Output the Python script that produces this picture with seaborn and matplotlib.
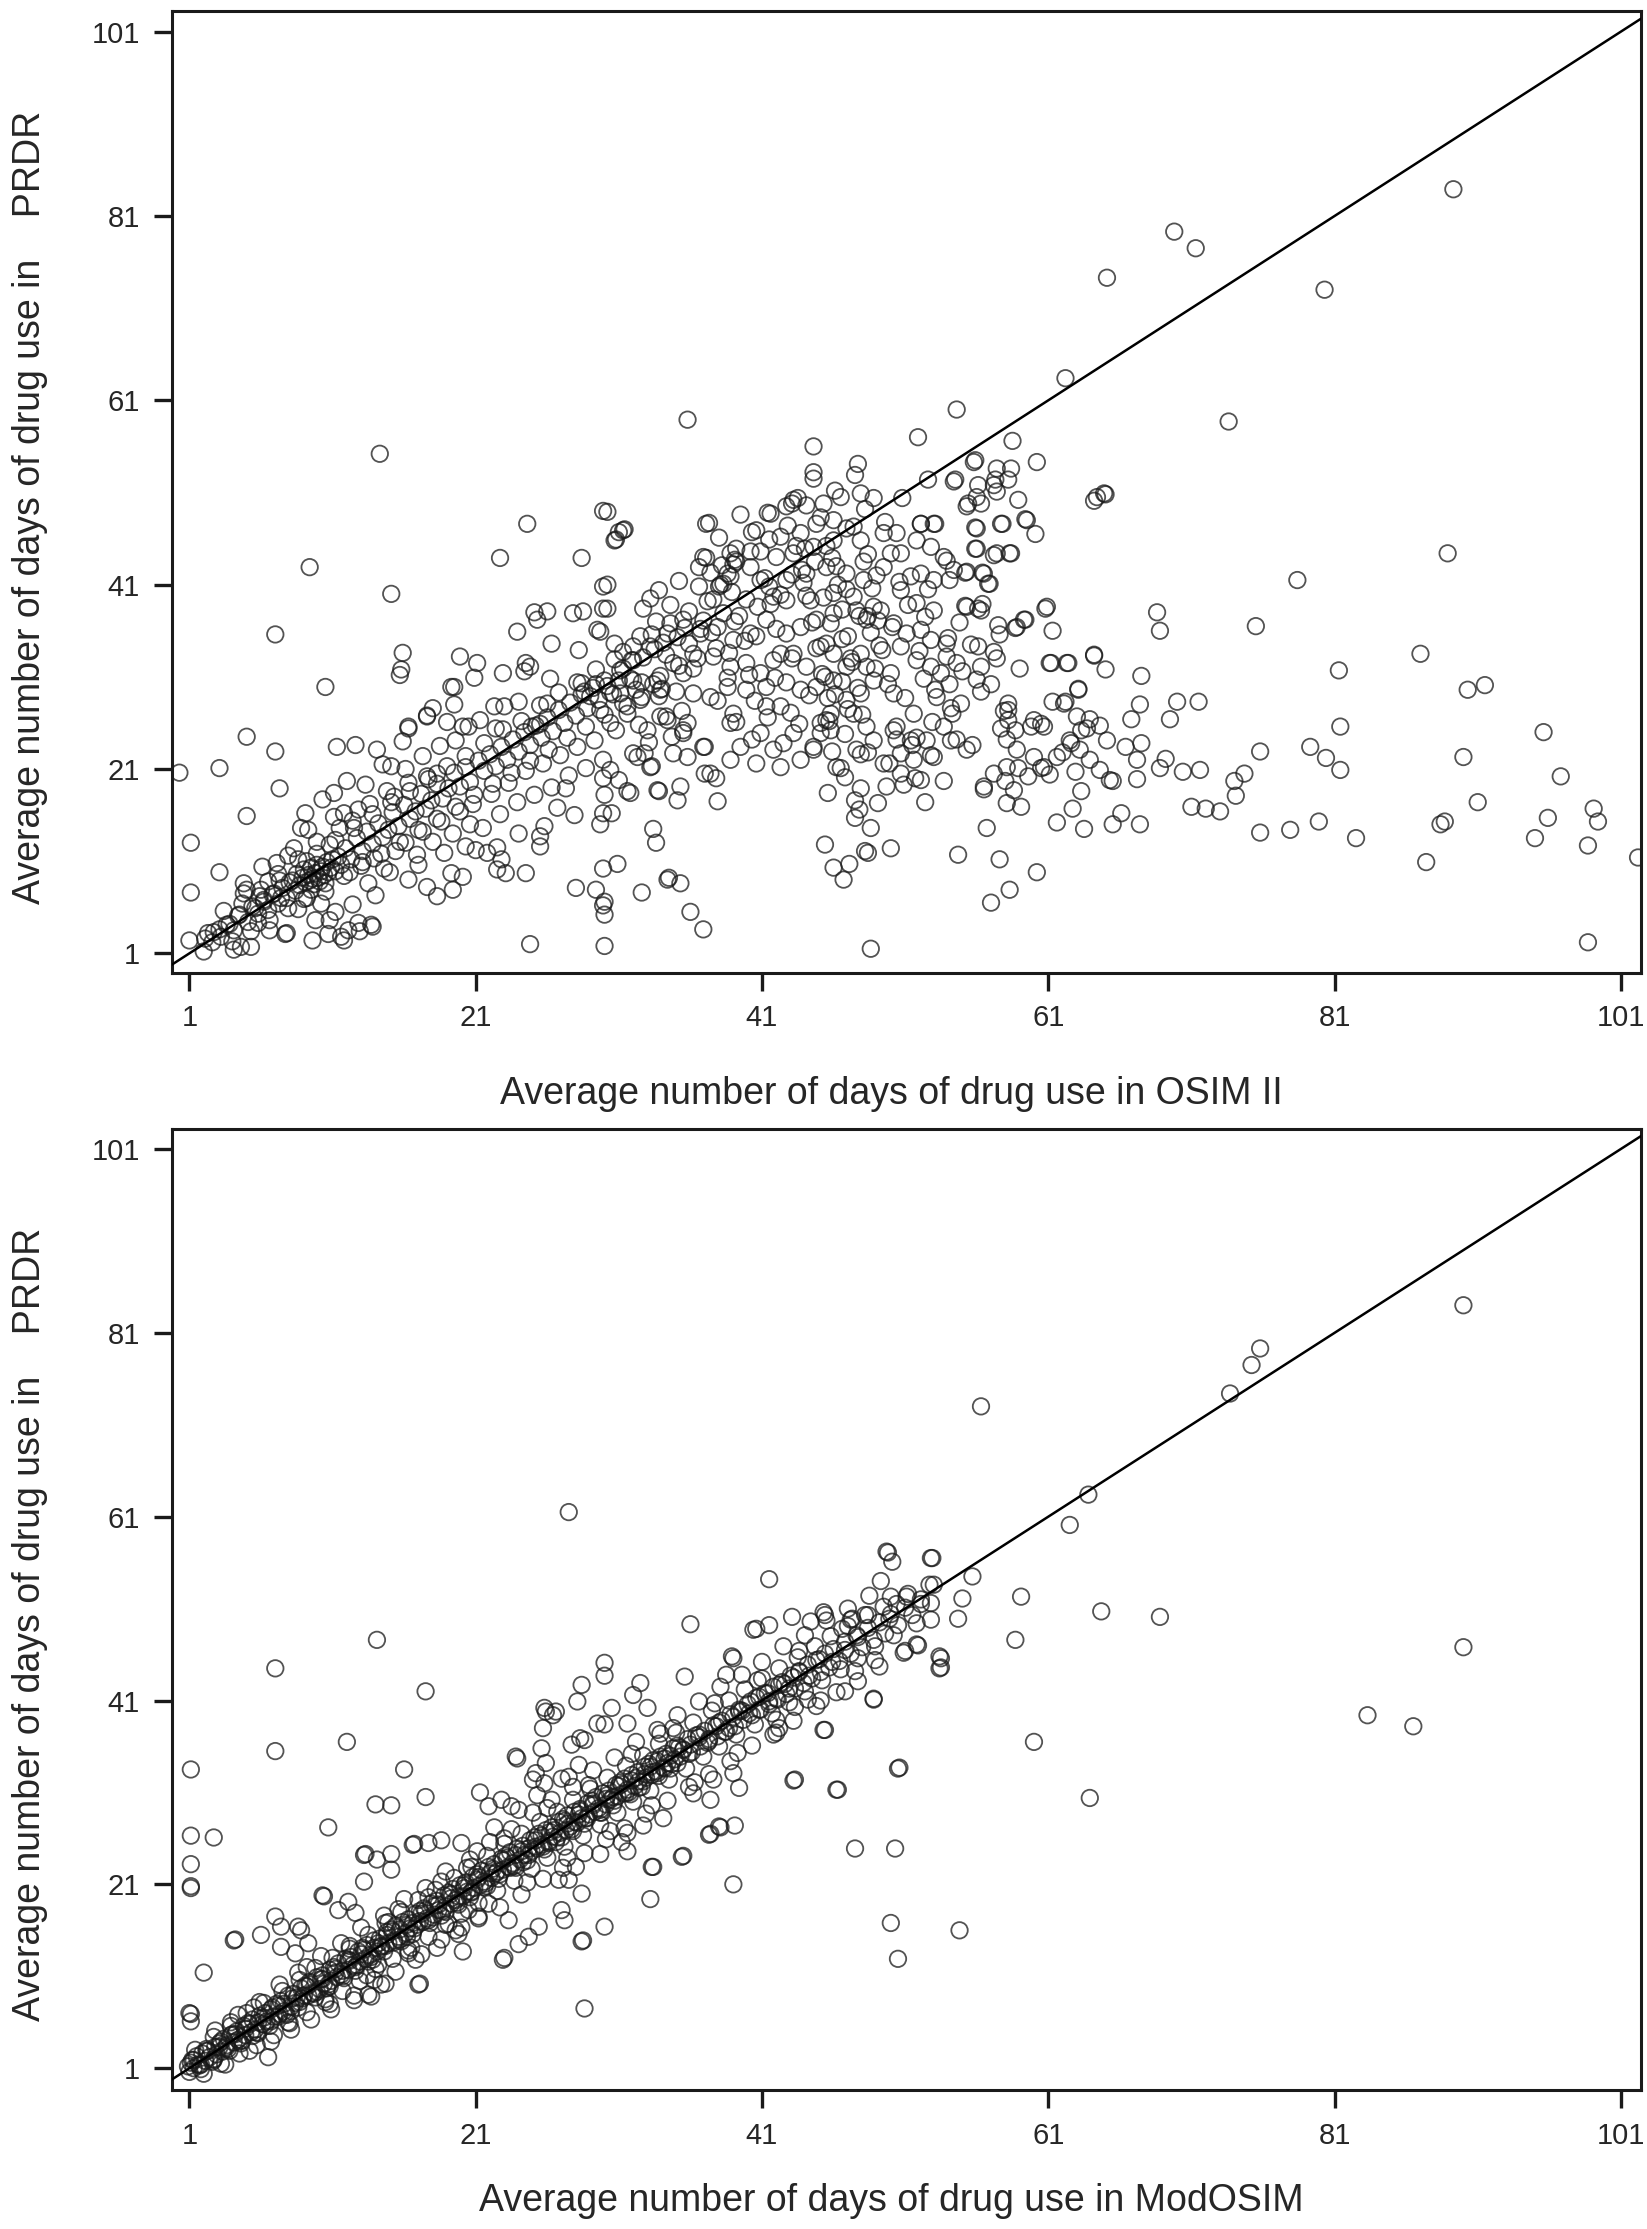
import pandas as pd
import matplotlib
matplotlib.use("Agg")
import matplotlib.pyplot as plt
import seaborn as sns

# axis ticks shared by both panels
tick_vals = [1, 21, 41, 61, 81, 101]

# ---------------- top panel: OSIM II (x) vs PRDR (y) ----------------
osim_band = [
    (2.1, 2.6), (2.7, 3.3), (3.2, 2.8), (3.6, 4.1), (4.1, 3.5), (4.5, 5.2), (5.1, 4.4), (5.4, 6.1),
    (5.8, 5.3), (6.2, 6.8), (6.5, 5.7), (6.9, 7.5), (7.2, 6.4), (7.5, 8.1), (7.8, 7.0), (8.0, 8.7),
    (8.2, 8.9), (8.4, 7.8), (8.5, 9.6), (8.7, 8.4), (8.9, 9.2), (9.0, 10.1), (9.1, 8.7), (9.2, 11.0),
    (9.3, 9.5), (9.4, 8.9), (9.5, 10.3), (9.5, 7.9), (9.6, 9.1), (9.7, 8.5), (9.8, 9.7), (9.9, 10.6),
    (10.0, 9.2), (10.1, 8.8), (10.2, 9.9), (10.3, 10.4), (10.4, 9.5), (10.5, 8.6), (10.6, 10.9),
    (10.7, 9.8), (10.9, 10.3), (11.0, 11.2), (11.2, 9.9), (11.4, 11.5), (11.6, 10.6), (11.9, 12.4),
    (12.3, 11.2), (12.7, 13.5), (13.1, 12.1), (13.4, 14.2), (13.8, 12.9), (14.2, 15.1), (14.5, 13.6),
    (14.9, 14.4), (15.2, 16.3), (15.6, 14.8), (16.0, 17.1), (16.4, 15.6), (16.8, 16.4), (17.2, 18.3),
    (17.5, 16.7), (17.9, 17.6), (18.3, 19.4), (18.7, 17.8), (19.1, 18.9), (19.5, 20.6), (19.9, 19.1),
    (20.3, 21.2), (20.6, 19.6), (21.2, 21.9), (21.6, 20.8), (22.0, 22.6), (22.4, 21.3), (22.8, 23.4),
    (23.2, 22.0), (23.6, 24.2), (24.0, 22.9), (24.4, 25.0), (24.8, 23.6), (25.2, 25.7), (25.6, 24.4),
    (26.0, 26.6), (26.4, 25.1), (26.8, 27.4), (27.2, 26.0), (27.6, 28.2), (28.0, 26.8), (28.4, 29.1),
    (28.8, 27.6), (29.2, 29.8), (29.6, 28.5), (30.0, 30.6), (30.4, 29.3), (28.6, 29.4), (29.4, 30.2),
    (30.2, 30.0), (31.0, 30.6), (31.8, 30.8), (32.6, 30.4), (33.4, 30.2), (34.0, 29.7), (29.0, 28.9),
    (30.6, 29.1), (32.2, 29.6), (33.8, 28.9), (35.0, 29.4), (31.3, 31.9), (31.9, 32.8), (32.7, 33.1),
    (33.5, 34.0), (34.3, 33.4), (35.1, 35.3), (35.9, 34.6), (36.7, 36.2), (37.5, 35.8), (38.3, 37.9),
    (39.1, 37.0), (39.9, 39.4), (40.7, 38.6), (41.5, 40.8), (42.3, 39.9), (43.1, 42.1), (43.9, 41.2),
    (44.7, 43.5),
]

osim_band_wide = [
    (3.4, 5.6), (4.0, 2.3), (4.7, 6.4), (5.3, 3.4), (6.0, 7.9), (6.6, 4.6), (7.3, 8.9), (7.9, 5.9),
    (8.6, 11.2), (9.2, 7.0), (9.9, 11.8), (10.5, 7.7), (11.2, 13.3), (11.8, 9.4), (12.5, 14.6),
    (13.1, 10.9), (13.8, 16.1), (14.4, 11.8), (15.1, 17.4), (15.7, 13.1), (16.4, 18.6), (17.0, 14.4),
    (17.7, 19.9), (18.3, 15.6), (19.0, 21.3), (19.6, 16.9), (20.3, 22.4), (20.9, 18.2), (21.6, 23.8),
    (22.2, 19.4), (22.9, 25.3), (23.5, 20.6), (24.2, 26.2), (24.8, 21.9), (25.5, 27.9), (26.1, 23.1),
    (26.8, 29.3), (27.4, 24.4), (28.1, 30.4), (28.7, 25.6), (29.4, 31.8), (30.0, 26.9), (30.7, 32.9),
    (31.3, 28.1), (32.0, 34.3), (32.6, 28.8), (33.3, 35.6), (33.9, 31.1), (34.6, 36.8), (35.2, 32.2),
    (35.9, 38.1), (36.5, 33.0), (37.2, 39.2), (37.8, 34.1),
]

osim_left = [
    (0.3, 20.6), (1.1, 13.0), (1.1, 7.6), (1.0, 2.4), (2.0, 1.2), (3.1, 21.1), (3.1, 9.8), (3.1, 3.6),
    (4.6, 1.7), (2.3, 3.2), (4.1, 1.4), (5.3, 1.7), (5.8, 4.3), (6.6, 3.5), (7.8, 3.2), (2.6, 2.2),
    (3.8, 4.2), (4.4, 5.1), (5.0, 24.5), (5.0, 15.9), (5.0, 7.9), (4.8, 8.6), (4.8, 7.5), (6.1, 10.4),
    (7.1, 10.8), (7.0, 35.6), (7.0, 22.9), (7.3, 18.9), (7.7, 3.1), (5.6, 5.9), (6.2, 6.6), (6.8, 7.4),
    (7.4, 7.0), (6.5, 8.8), (7.2, 9.6), (5.9, 7.2), (9.6, 2.4), (10.7, 3.1), (11.8, 2.4), (12.9, 3.4),
    (13.7, 4.1), (12.1, 3.5), (11.6, 2.8), (10.8, 4.6), (9.8, 4.6), (12.8, 4.3), (13.8, 3.9), (11.2, 5.5),
    (12.4, 6.3), (9.4, 42.9), (10.5, 29.9), (10.3, 17.7), (9.1, 16.2), (9.3, 14.4), (8.8, 14.6),
    (11.1, 18.4), (11.8, 16.2), (11.1, 15.8), (12.8, 16.6), (8.3, 12.4), (9.9, 13.1), (10.8, 12.8),
    (7.9, 11.6), (8.6, 5.8), (9.0, 6.9), (10.2, 6.4), (11.3, 23.4), (12.6, 23.6), (14.1, 23.1),
    (15.1, 21.3), (16.3, 25.4), (17.6, 26.7), (19.0, 26.1), (20.1, 25.6), (20.5, 25.6), (13.3, 19.3),
    (15.3, 18.0), (16.3, 19.5), (17.6, 20.2), (18.3, 20.5), (18.3, 7.2), (17.6, 8.2), (16.3, 9.0),
    (19.3, 9.7), (20.1, 9.3), (21.0, 12.2), (21.8, 11.9), (20.3, 12.6), (14.3, 55.2), (15.1, 40.0),
    (15.9, 33.6), (15.8, 31.8), (15.7, 31.2), (16.3, 25.6), (17.6, 26.8), (19.9, 33.2), (21.1, 32.5),
    (19.5, 29.9), (19.3, 29.9), (20.9, 30.9), (12.2, 9.8), (13.0, 10.5), (13.9, 11.3), (14.6, 10.2),
    (15.4, 12.1), (16.1, 13.0), (16.9, 11.7), (17.3, 14.2), (18.0, 13.1), (18.6, 15.3), (19.4, 14.0),
    (19.9, 16.4), (20.6, 15.0), (13.5, 8.6), (15.0, 9.8), (17.0, 10.6), (18.8, 11.9), (14.0, 7.3),
    (11.5, 14.6), (12.4, 15.4), (13.6, 17.2), (14.8, 18.6), (16.1, 21.0), (17.3, 22.4), (18.5, 23.5),
    (19.6, 24.1), (12.0, 19.7), (14.5, 21.5), (15.9, 24.0), (18.0, 27.6), (19.5, 28.0), (19.4, 7.9),
]

osim_mid = [
    (20.8, 17.2), (21.5, 14.6), (22.1, 18.3), (22.7, 16.1), (23.3, 19.5), (23.9, 17.4), (24.5, 20.8),
    (25.1, 18.2), (25.7, 21.6), (26.3, 19.0), (26.9, 22.5), (27.5, 20.3), (28.1, 23.4), (28.7, 21.1),
    (29.3, 24.1), (29.9, 22.0), (22.5, 12.5), (24.0, 14.0), (25.5, 13.7), (25.5, 12.6), (25.8, 14.8),
    (22.8, 11.2), (22.5, 10.1), (24.5, 9.7), (23.1, 9.7), (24.8, 2.0), (30.0, 1.8), (29.9, 6.2),
    (30.0, 5.2), (28.0, 8.1), (29.9, 10.2), (30.9, 10.7), (29.4, 7.9), (30.0, 6.6), (27.9, 16.0),
    (29.9, 16.2), (30.0, 18.2), (29.7, 15.0), (26.7, 16.8), (27.3, 18.9), (21.3, 26.3), (22.4, 25.4),
    (23.0, 27.8), (24.0, 28.3), (22.3, 27.8), (24.9, 25.6), (25.5, 25.9), (26.0, 28.1), (24.4, 31.6),
    (24.5, 32.5), (26.2, 30.8), (28.4, 30.3), (22.9, 31.4), (23.9, 35.9), (25.3, 37.2), (26.0, 38.1),
    (26.3, 34.6), (28.2, 33.9), (27.8, 37.9), (28.5, 38.1), (22.7, 43.9), (24.6, 47.6), (25.1, 38.0),
    (24.8, 32.1), (28.4, 43.9), (29.9, 49.0), (31.0, 46.7), (31.4, 47.0), (30.8, 45.9), (29.9, 40.8),
    (29.9, 38.4), (29.7, 35.9), (30.7, 34.6), (29.5, 36.1), (29.9, 20.0), (31.6, 18.6), (33.8, 18.6),
    (35.1, 17.6), (33.4, 14.5), (33.6, 13.0), (32.6, 7.6), (34.4, 9.0), (35.3, 8.6), (36.0, 5.5),
    (36.9, 3.6), (34.5, 9.2), (37.9, 17.5), (37.0, 20.5), (37.8, 20.0), (32.0, 22.7), (32.8, 22.7),
    (33.3, 21.3), (34.8, 22.7), (35.5, 24.9), (34.3, 26.7), (35.8, 26.0), (37.0, 23.4), (38.8, 26.0),
    (31.0, 19.8), (31.8, 18.4), (30.5, 16.2), (35.8, 58.9), (33.8, 40.4), (32.7, 38.4), (37.1, 47.6),
    (36.6, 42.9), (37.1, 43.9), (38.3, 41.1), (39.0, 43.2), (39.2, 44.9), (37.3, 47.7), (36.9, 44.0),
    (38.0, 40.8), (38.8, 41.9), (39.1, 43.7), (30.2, 48.9), (31.3, 46.9), (30.7, 45.8),
]

osim_core = [
    (44.6, 56.0), (44.6, 53.2), (44.6, 52.5), (43.1, 49.8), (41.4, 48.8), (40.3, 46.7), (30.2, 41.0),
    (30.2, 38.4), (38.1, 41.0), (38.6, 42.2), (39.2, 43.5), (40.2, 44.6), (40.6, 46.9), (41.6, 48.7),
    (42.7, 49.5), (43.2, 50.2), (44.1, 49.6), (45.3, 49.8), (46.5, 50.5), (47.9, 50.9), (48.8, 50.4),
    (42.3, 46.2), (43.7, 46.6), (44.8, 47.6), (46.0, 48.0), (47.4, 47.3), (42.0, 44.0), (43.2, 44.4),
    (44.6, 45.1), (46.0, 45.8), (47.9, 45.8), (49.5, 46.6), (50.4, 46.6), (50.0, 44.4), (49.5, 42.9),
    (50.7, 44.4), (52.1, 47.6), (53.0, 47.6), (51.8, 45.8), (52.8, 45.1), (53.7, 44.0), (54.4, 42.6),
    (51.4, 41.9), (52.1, 42.2), (53.0, 41.5), (50.7, 40.4), (51.8, 39.0), (53.0, 38.2), (38.8, 44.4),
    (40.2, 42.9), (40.9, 41.5), (42.7, 41.5), (44.1, 42.2), (45.5, 42.9), (46.9, 42.2), (48.1, 41.5),
    (41.8, 39.7), (42.7, 39.3), (44.4, 39.3), (46.0, 40.1), (47.4, 39.7), (48.8, 38.6), (49.3, 38.2),
    (48.3, 37.2), (48.4, 37.6), (50.2, 36.8), (51.1, 35.7), (52.1, 36.1), (52.8, 35.0), (53.9, 34.6),
    (50.7, 34.3), (51.8, 32.8), (52.8, 32.1), (53.9, 33.2), (54.6, 32.5), (50.0, 31.4), (50.2, 29.2),
    (48.8, 30.6), (48.3, 32.1), (47.9, 33.5), (46.0, 37.9), (44.8, 37.2), (43.7, 36.4), (42.7, 35.7),
    (41.3, 37.2), (40.2, 35.7), (39.0, 35.0), (37.9, 36.4), (36.7, 35.7), (35.5, 37.2), (34.4, 35.7),
    (33.2, 34.3), (32.0, 32.8), (31.1, 31.7), (34.8, 32.5), (36.2, 33.5), (37.6, 33.2), (38.8, 32.1),
    (39.9, 32.5), (40.9, 31.4), (41.8, 32.8), (43.2, 33.5), (44.1, 32.1), (45.1, 34.3), (46.0, 33.5),
    (46.9, 32.1), (46.0, 30.6), (44.8, 29.9), (43.7, 29.6), (41.3, 29.9), (39.9, 29.6), (38.6, 29.9),
    (37.4, 28.8), (36.2, 29.2), (33.9, 29.6), (32.5, 28.5), (31.1, 29.2), (35.5, 31.4), (33.7, 30.6),
    (32.0, 30.6), (45.5, 26.3), (45.8, 25.2), (45.1, 24.9), (38.2, 43.1), (38.9, 40.2), (39.4, 37.6),
    (39.8, 34.9), (40.1, 31.2), (40.5, 28.4), (40.9, 44.6), (41.2, 41.7), (41.6, 38.9), (42.0, 36.2),
    (42.3, 33.5), (42.7, 30.4), (43.0, 27.1), (43.4, 45.2), (43.8, 42.6), (44.1, 39.8), (44.5, 36.9),
    (44.8, 34.1), (45.2, 31.3), (45.6, 28.7), (45.9, 43.9), (46.3, 41.0), (46.6, 38.3), (47.0, 35.4),
    (47.3, 32.6), (47.7, 29.8), (48.0, 26.9), (48.4, 44.3), (48.7, 40.6), (49.1, 37.1), (49.4, 33.9),
    (49.8, 30.2), (38.6, 30.9), (39.2, 26.1), (40.3, 24.2), (41.4, 26.6), (42.5, 23.8), (43.6, 25.9),
    (44.6, 23.4), (45.7, 26.2), (46.8, 24.8), (47.9, 22.6), (37.6, 39.4), (36.9, 37.1), (36.2, 31.9),
    (35.4, 27.3), (34.7, 24.5), (33.9, 26.7), (33.1, 23.9), (32.4, 25.8), (31.6, 27.8), (30.8, 25.2),
    (31.3, 33.7), (32.5, 35.4), (33.6, 37.0), (34.6, 38.8), (35.6, 36.3), (36.6, 40.8), (37.4, 42.3),
    (35.2, 41.4), (33.2, 39.5), (34.1, 34.7), (37.9, 28.4), (38.7, 33.6), (40.6, 35.4), (41.9, 30.9),
    (43.1, 33.0), (44.3, 29.0), (45.5, 34.6), (46.6, 30.5), (47.8, 37.6), (48.9, 31.9), (50.1, 36.4),
    (51.0, 28.7), (52.0, 33.8), (50.6, 41.3), (51.8, 24.4), (53.1, 29.6), (52.4, 37.5), (54.0, 35.2),
    (55.0, 31.6), (54.3, 27.0), (56.1, 34.3), (55.7, 23.6), (57.0, 30.2), (58.2, 28.1), (59.0, 31.9),
    (57.7, 25.4), (56.4, 38.9), (49.6, 47.8), (48.2, 49.2), (46.9, 47.1), (45.1, 48.3), (44.0, 44.9),
    (42.8, 47.4), (41.5, 45.9), (43.5, 50.4), (46.1, 51.2), (47.5, 52.9), (50.8, 50.4), (39.5, 48.6),
    (38.0, 46.1), (45.5, 45.2), (46.2, 43.0), (46.9, 40.5), (47.6, 38.2), (45.8, 36.8), (46.6, 35.1),
    (47.2, 33.0), (45.4, 31.0), (46.1, 29.1), (47.0, 27.5), (48.6, 35.8), (49.2, 34.4), (48.1, 43.5),
    (49.0, 42.0), (45.3, 39.6), (45.9, 22.9), (46.8, 20.1), (47.9, 18.9), (49.1, 17.3), (48.6, 14.6),
    (45.6, 18.4), (52.3, 30.8), (53.5, 31.4), (51.2, 38.8), (52.6, 40.5), (54.8, 36.9), (55.6, 34.5),
    (54.1, 30.2), (51.6, 27.0), (52.9, 26.1), (39.0, 27.0), (41.3, 27.8), (42.3, 27.8), (35.5, 25.2),
    (34.4, 26.3), (33.0, 25.2), (30.4, 26.0), (31.6, 27.0), (29.7, 27.4), (43.2, 24.9), (41.8, 23.1),
    (40.9, 24.9), (39.5, 23.4), (40.6, 21.6), (38.8, 22.0), (36.9, 23.4), (37.4, 20.5), (35.8, 22.3),
    (33.2, 21.2), (32.3, 22.3), (30.4, 20.9), (33.7, 18.7), (35.3, 19.1), (44.6, 23.1), (43.7, 22.0),
    (42.3, 21.2), (45.1, 26.0), (45.8, 27.0), (46.9, 28.5), (47.9, 29.2), (47.4, 27.0), (46.2, 21.2),
    (47.6, 23.1), (48.3, 25.6), (48.8, 24.1),
]

osim_right = [
    (89.3, 83.9), (69.8, 79.3), (71.3, 77.5), (65.1, 74.3), (80.3, 73.0), (62.2, 63.4), (54.6, 60.0),
    (51.9, 57.0), (73.6, 58.7), (47.7, 54.1), (58.5, 56.6), (55.9, 54.5), (60.2, 54.3), (57.4, 53.6),
    (58.4, 53.6), (57.3, 52.4), (58.2, 52.4), (57.4, 51.1), (55.8, 54.3), (54.4, 52.2), (52.6, 52.4),
    (54.5, 52.4), (56.1, 51.8), (57.2, 51.8), (56.0, 50.5), (55.3, 49.5), (56.3, 49.8), (58.9, 50.2),
    (64.2, 50.1), (65.0, 50.8), (88.9, 44.4), (78.4, 41.5), (60.1, 46.5), (59.4, 48.1), (57.7, 47.6),
    (55.9, 47.2), (53.1, 47.6), (55.4, 49.8), (52.1, 47.6), (57.8, 47.6), (59.5, 48.0), (55.9, 44.9),
    (58.3, 44.4), (57.2, 44.2), (55.2, 42.3), (56.4, 42.3), (56.9, 41.1), (53.9, 43.6), (54.1, 41.5),
    (55.2, 38.7), (56.1, 38.4), (60.9, 38.6), (61.3, 36.0), (59.4, 37.2), (58.7, 36.3), (57.6, 35.6),
    (57.5, 36.6), (55.3, 42.4), (68.6, 38.0), (68.8, 36.0), (75.5, 36.5), (87.0, 33.5), (81.3, 31.7),
    (90.3, 29.6), (91.5, 30.1), (95.6, 25.0), (96.8, 20.2), (90.0, 22.3), (91.0, 17.4), (99.1, 16.7),
    (99.4, 15.3), (95.9, 15.7), (95.0, 13.5), (98.7, 12.7), (102.2, 11.4), (98.7, 2.2), (88.4, 15.0),
    (88.7, 15.3), (87.4, 10.9), (82.5, 13.5), (79.9, 15.3), (77.9, 14.4), (75.8, 14.1), (81.4, 25.6),
    (81.4, 20.9), (80.4, 22.2), (79.3, 23.4), (75.8, 22.9), (74.7, 20.5), (74.0, 19.7), (74.1, 18.1),
    (73.0, 16.4), (72.0, 16.7), (71.0, 16.9), (71.5, 28.3), (70.0, 28.3), (69.5, 26.4), (71.6, 20.9),
    (70.4, 20.7), (68.8, 21.1), (69.2, 22.1), (67.5, 31.1), (67.4, 28.0), (66.8, 26.4), (67.5, 23.8),
    (67.2, 22.0), (67.2, 19.9), (66.4, 23.4), (66.1, 16.2), (65.5, 15.0), (67.4, 15.0), (65.5, 19.7),
    (65.0, 31.8), (64.2, 33.3), (63.1, 29.6), (62.4, 32.5), (61.2, 32.5), (62.2, 28.3), (61.3, 28.3),
    (64.6, 25.7), (63.9, 26.4), (63.3, 25.2), (62.6, 23.8), (62.0, 22.8), (62.9, 20.7), (63.3, 18.6),
    (62.7, 16.7), (63.5, 14.5), (61.6, 15.2), (61.1, 20.4), (60.5, 21.1), (59.6, 20.2), (58.9, 21.1),
    (60.5, 25.9), (59.8, 25.6), (60.2, 9.8), (58.3, 7.9), (57.0, 6.5), (57.6, 11.2), (56.7, 14.6),
    (56.5, 18.8), (58.0, 19.7), (59.1, 16.9), (58.1, 17.3), (58.1, 24.2), (57.9, 27.3), (54.7, 11.7),
    (52.4, 17.4), (53.7, 19.7), (51.7, 20.0), (50.9, 19.3), (52.8, 22.5), (53.7, 25.6), (54.6, 24.2),
    (51.5, 23.6), (50.4, 25.6), (50.4, 24.2), (49.9, 21.6), (48.4, 22.8), (50.0, 12.4), (48.4, 11.9),
    (48.2, 12.1), (47.5, 17.6), (47.8, 16.6), (47.5, 15.7), (46.5, 21.1), (45.4, 12.8), (46.0, 10.3),
    (47.1, 10.7), (46.7, 9.0), (48.6, 1.5), (61.1, 32.5), (62.3, 32.5), (64.2, 33.4), (63.1, 29.7),
    (62.1, 28.1), (57.2, 33.7), (57.4, 33.0), (56.3, 32.1), (56.0, 30.7), (56.3, 29.4), (58.2, 27.4),
    (58.2, 26.3), (58.7, 25.2), (60.0, 26.3), (60.7, 25.6), (63.0, 26.7), (63.7, 25.4), (65.1, 24.1),
    (62.5, 24.1), (63.2, 23.1), (63.9, 22.0), (61.6, 22.3), (60.7, 21.2), (60.0, 22.3), (58.8, 23.1),
    (58.1, 21.2), (57.2, 20.5), (56.5, 19.1), (64.6, 20.9), (65.3, 19.8), (58.6, 18.7), (55.3, 23.1),
    (54.2, 24.1), (53.0, 22.3), (52.1, 19.8), (54.9, 28.1), (53.2, 28.8), (54.2, 27.6), (52.5, 24.1),
    (50.2, 25.2), (51.4, 24.1), (50.7, 22.7), (51.6, 22.0), (50.7, 20.5), (49.5, 21.6), (49.7, 19.1),
    (55.3, 38.6), (56.3, 38.2), (56.0, 44.9), (57.4, 44.4), (58.4, 44.4), (56.0, 47.1), (60.8, 38.4),
    (58.8, 36.4), (59.3, 37.2), (56.5, 42.2), (56.8, 41.1), (64.4, 50.5), (64.9, 50.9),
]

# ---------------- bottom panel: ModOSIM (x) vs PRDR (y) ----------------
mod_band = [
    (0.9, 1.2), (1.0, 0.6), (1.2, 1.9), (1.3, 1.0), (1.5, 2.3), (1.6, 1.4), (1.8, 0.9), (1.9, 2.6),
    (2.1, 1.8), (2.3, 2.9), (2.4, 2.2), (2.6, 1.7), (2.8, 3.3), (2.9, 2.5), (3.1, 3.7), (3.3, 2.8),
    (3.4, 4.2), (3.6, 3.3), (3.8, 2.9), (3.9, 4.6), (4.1, 3.8), (4.3, 5.0), (4.4, 4.1), (4.6, 3.7),
    (4.8, 5.6), (4.9, 4.6), (5.1, 5.9), (5.3, 4.9), (5.4, 6.3), (5.6, 5.2), (5.8, 4.8), (5.9, 6.7),
    (6.1, 5.8), (6.3, 7.0), (6.4, 6.1), (6.6, 5.6), (6.8, 7.6), (6.9, 6.6), (7.1, 8.0), (7.3, 6.9),
    (7.4, 8.3), (7.6, 7.2), (7.8, 6.8), (7.9, 8.9), (8.1, 7.7), (8.3, 9.1), (8.4, 8.1), (8.6, 7.6),
    (8.8, 9.7), (8.9, 8.6), (9.1, 10.0), (9.3, 8.9), (9.4, 10.4), (9.6, 9.2), (9.8, 8.7), (9.9, 10.9),
    (10.1, 9.6), (10.3, 11.1), (10.4, 10.2), (10.6, 9.7), (10.8, 11.7), (10.9, 10.5), (11.1, 12.0),
    (11.3, 10.9), (11.4, 12.4), (11.6, 11.2), (11.8, 10.8), (11.9, 12.9), (12.1, 11.7), (12.3, 13.1),
    (12.4, 12.2), (12.6, 11.6), (12.8, 13.7), (12.9, 12.6), (13.1, 14.1), (13.3, 12.9), (13.4, 14.4),
    (13.6, 13.3), (13.8, 12.8), (13.9, 14.9), (14.1, 13.7), (14.3, 15.1), (14.4, 14.2), (14.6, 13.7),
    (14.8, 15.8), (14.9, 14.6), (15.1, 16.1), (15.3, 14.9), (15.4, 16.5), (15.6, 15.3), (15.8, 14.8),
    (15.9, 16.9), (16.1, 15.7), (16.3, 17.2), (16.4, 16.2), (16.6, 15.6), (16.8, 17.8), (16.9, 16.6),
    (17.1, 18.1), (17.3, 16.9), (17.4, 18.4), (17.6, 17.3), (17.8, 16.8), (17.9, 18.9), (18.1, 17.7),
    (18.3, 19.2), (18.4, 18.2), (18.6, 17.6), (18.8, 19.8), (18.9, 18.6), (19.1, 20.1), (19.3, 18.9),
    (19.4, 20.5), (19.6, 19.3), (19.8, 18.8), (19.9, 20.9), (20.1, 19.7), (20.3, 21.2), (20.4, 20.2),
    (20.6, 19.6), (20.8, 21.8), (20.9, 20.6), (21.1, 22.1), (21.3, 20.9), (21.4, 22.5), (21.6, 21.3),
    (21.8, 20.8), (21.9, 22.9), (22.1, 21.7), (22.3, 23.2), (22.4, 22.2), (22.6, 21.6), (22.8, 23.8),
    (22.9, 22.6), (23.1, 24.1), (23.3, 22.9), (23.4, 24.5), (23.6, 23.3), (23.8, 22.8), (23.9, 24.9),
    (24.1, 23.7), (24.3, 25.2), (24.4, 24.2), (24.6, 23.6), (24.8, 25.8), (24.9, 24.6), (25.1, 26.1),
    (25.3, 24.9), (25.4, 26.5), (25.6, 25.3), (25.8, 24.8), (25.9, 26.9), (26.1, 25.7), (26.3, 27.2),
    (26.4, 26.2), (26.6, 25.6), (26.8, 27.8), (26.9, 26.6), (27.1, 28.1), (27.3, 26.9), (27.4, 28.5),
    (27.6, 27.3), (27.8, 26.8), (27.9, 28.9), (28.1, 27.7), (28.3, 29.2), (28.4, 28.2), (28.6, 27.6),
    (28.8, 29.8), (28.9, 28.6), (29.1, 30.1), (29.3, 28.9), (29.4, 30.5), (29.6, 29.3), (29.8, 28.8),
    (29.9, 30.9), (30.1, 29.7), (30.3, 31.2), (30.4, 30.2), (30.6, 29.6), (30.8, 31.8), (30.9, 30.6),
    (31.1, 32.1), (31.3, 30.9), (31.4, 32.5), (31.6, 31.3), (31.8, 30.8), (31.9, 32.9), (32.1, 31.7),
    (32.3, 33.2), (32.4, 32.2), (32.6, 31.6), (32.8, 33.8), (32.9, 32.6), (33.1, 34.1), (33.3, 32.9),
    (33.4, 34.5), (33.6, 33.3), (33.8, 32.8), (33.9, 34.9), (34.1, 33.7), (34.3, 35.2), (34.4, 34.2),
    (34.6, 33.6), (34.8, 35.8), (34.9, 34.6), (35.1, 36.1), (35.3, 34.9), (35.5, 35.6), (35.8, 36.8),
    (36.1, 35.4), (36.4, 37.2), (36.7, 36.0), (37.0, 37.7), (37.3, 36.6), (37.6, 38.3), (37.9, 37.1),
    (38.2, 38.8), (38.5, 37.6), (38.8, 39.5), (39.1, 38.2), (39.4, 40.0), (39.7, 38.9), (40.0, 40.6),
    (40.3, 39.4), (40.6, 41.3), (40.9, 40.0), (41.2, 41.8), (41.5, 40.6), (41.8, 42.5), (42.1, 41.1),
    (42.4, 43.0), (42.7, 41.7), (43.0, 43.7), (43.3, 42.3), (43.6, 44.2), (43.9, 42.9), (44.2, 44.9),
    (44.5, 43.4), (44.8, 45.4), (45.1, 44.1), (45.4, 46.1), (45.7, 44.6), (46.0, 46.6), (46.4, 45.3),
    (46.8, 47.4), (47.2, 46.1), (47.6, 48.1), (48.0, 46.8), (48.4, 48.9), (48.8, 47.6), (49.2, 49.5),
    (49.6, 48.3), (50.0, 50.4), (50.5, 49.2), (51.0, 51.1), (51.5, 50.3), (52.1, 52.0), (52.8, 51.6),
]

mod_band_inner = [
    (1.1, 1.6), (1.7, 1.3), (2.2, 2.9), (2.7, 2.0), (3.2, 3.9), (3.7, 3.1), (4.2, 4.7), (4.7, 4.0),
    (5.2, 5.8), (5.7, 4.9), (6.2, 6.5), (6.7, 6.1), (7.2, 7.8), (7.7, 7.0), (8.2, 8.6), (8.7, 8.2),
    (9.2, 9.9), (9.7, 9.1), (10.2, 10.7), (10.7, 10.1), (11.2, 11.8), (11.7, 11.0), (12.2, 12.7),
    (12.7, 12.2), (13.2, 13.9), (13.7, 13.1), (14.2, 14.6), (14.7, 14.3), (15.2, 15.9), (15.7, 15.0),
    (16.2, 16.6), (16.7, 16.2), (17.2, 17.8), (17.7, 17.1), (18.2, 18.7), (18.7, 18.1), (19.2, 19.9),
    (19.7, 19.0), (20.2, 20.6), (20.7, 20.2), (21.2, 21.8), (21.7, 21.1), (22.2, 22.7), (22.7, 22.1),
    (23.2, 23.9), (23.7, 23.0), (24.2, 24.6), (24.7, 24.2), (25.2, 25.8), (25.7, 25.1), (26.2, 26.7),
    (26.7, 26.1), (27.2, 27.9), (27.7, 27.0), (28.2, 28.6), (28.7, 28.2), (29.2, 29.8), (29.7, 29.1),
    (30.2, 30.7), (30.7, 30.1), (31.2, 31.9), (31.7, 31.0), (32.2, 32.6), (32.7, 32.2), (33.2, 33.8),
    (33.7, 33.1), (34.2, 34.7), (34.7, 34.1), (35.2, 35.9), (35.9, 35.2), (36.6, 37.0), (37.3, 36.8),
    (38.0, 38.6), (38.7, 38.0), (39.4, 39.8), (40.1, 39.6), (40.8, 41.4), (41.5, 40.9), (42.2, 42.7),
    (42.9, 42.3), (43.6, 44.1), (44.3, 43.7), (45.0, 45.5), (45.9, 45.2), (46.8, 46.5), (47.7, 47.9),
]

mod_band_mid = [
    (1.3, 1.9), (1.8, 1.4), (2.2, 3.1), (2.7, 1.9), (3.1, 3.3), (3.6, 3.5), (4.0, 4.7), (4.5, 3.9),
    (4.9, 5.3), (5.4, 4.5), (5.8, 6.0), (6.3, 5.7), (6.7, 7.4), (7.2, 6.6), (7.6, 8.0), (8.1, 7.2),
    (8.5, 8.7), (9.0, 8.9), (9.4, 10.1), (9.9, 9.3), (10.3, 10.7), (10.8, 9.9), (11.2, 11.4),
    (11.7, 11.6), (12.1, 12.8), (12.6, 12.0), (13.0, 13.4), (13.5, 12.6), (13.9, 14.1), (14.4, 14.3),
    (14.8, 15.5), (15.3, 14.7), (15.7, 16.1), (16.2, 15.3), (16.6, 16.8), (17.1, 17.0), (17.5, 18.2),
    (18.0, 17.4), (18.4, 18.8), (18.9, 18.0), (19.3, 19.5), (19.8, 19.7), (20.2, 20.9), (20.7, 20.1),
    (21.1, 21.5), (21.6, 20.7), (22.0, 22.2), (22.5, 22.4), (22.9, 23.6), (23.4, 22.8), (23.8, 24.2),
    (24.3, 23.4), (24.7, 24.9), (25.2, 25.1), (25.6, 26.3), (26.1, 25.5), (26.5, 26.9), (27.0, 26.1),
    (27.4, 27.6), (27.9, 27.8), (28.3, 29.0), (28.8, 28.2), (29.2, 29.6), (29.7, 28.8), (30.1, 30.3),
    (30.6, 30.5), (31.0, 31.7), (31.5, 30.9), (31.9, 32.3), (32.4, 31.5), (32.8, 33.0), (33.3, 33.2),
    (33.7, 34.4), (34.2, 33.6), (34.6, 35.0), (35.1, 34.2), (35.5, 35.7), (36.0, 36.2), (36.6, 37.3),
    (37.2, 36.4), (37.8, 38.2), (38.4, 37.6), (39.0, 39.2), (39.6, 39.9), (40.2, 40.9), (40.8, 40.0),
    (41.4, 41.8), (42.0, 41.2), (42.6, 42.8), (43.2, 43.5),
]

mod_band_wide = [
    (1.4, 3.0), (2.0, 0.4), (2.7, 4.4), (3.2, 1.5), (3.9, 5.6), (4.5, 2.6), (5.0, 7.0), (5.7, 3.5),
    (6.2, 8.1), (6.9, 4.6), (7.5, 9.4), (8.0, 5.9), (8.7, 10.6), (9.2, 7.1), (9.8, 11.9), (10.5, 8.2),
    (11.0, 13.0), (11.7, 9.4), (12.2, 14.3), (12.9, 10.5), (13.5, 15.5), (14.0, 11.8), (14.7, 16.8),
    (15.2, 12.9), (15.8, 18.0), (16.5, 14.1), (17.0, 19.3), (17.7, 15.3), (18.2, 20.4), (18.9, 16.6),
    (19.5, 21.7), (20.0, 17.8), (20.7, 22.9), (21.2, 19.0), (21.8, 24.1), (22.5, 20.3), (23.0, 25.4),
    (23.7, 21.4), (24.2, 26.5), (24.9, 22.7), (25.5, 27.8), (26.0, 23.9), (26.7, 28.9), (27.2, 25.1),
    (27.8, 30.2), (28.5, 26.3), (29.0, 31.4), (29.7, 27.5), (30.2, 32.6), (30.9, 28.8), (31.5, 33.9),
    (32.0, 30.0), (32.7, 35.0), (33.2, 31.2), (33.8, 36.3), (34.5, 32.4), (35.0, 37.5), (35.7, 33.6),
    (36.2, 38.6), (36.9, 34.9), (37.5, 39.9), (38.0, 36.0), (38.7, 41.0), (39.2, 37.3), (39.8, 42.2),
    (40.5, 38.4), (41.0, 43.4), (41.7, 39.6), (42.2, 44.5), (42.9, 40.8), (43.5, 45.7), (44.0, 42.0),
    (44.7, 46.9), (45.2, 43.2), (45.8, 48.0), (46.5, 44.4), (47.0, 49.1), (47.7, 45.6), (48.2, 50.3),
    (48.9, 46.9), (49.5, 51.2), (50.2, 48.1), (51.2, 52.6), (51.8, 49.4), (53.0, 53.6),
]

mod_spread = [
    (2.8, 5.1), (3.5, 1.4), (4.4, 6.8), (5.2, 2.9), (5.9, 8.2), (6.7, 3.9), (7.3, 10.1), (8.1, 5.2),
    (8.6, 11.4), (9.5, 6.3), (10.2, 13.2), (10.9, 7.4), (11.6, 14.6), (12.5, 8.9), (13.0, 16.3),
    (13.9, 10.6), (14.6, 17.6), (15.4, 11.5), (16.0, 19.4), (16.8, 12.8), (17.5, 20.6), (18.3, 14.1),
    (18.9, 22.4), (19.8, 15.6), (20.6, 23.7), (21.2, 17.3), (22.0, 25.6), (22.7, 18.5), (23.5, 27.0),
    (24.2, 19.9), (25.0, 28.8), (25.7, 21.6), (26.3, 30.2), (27.1, 22.8), (27.8, 31.6), (28.6, 24.4),
    (29.2, 33.4), (30.1, 25.9), (30.7, 34.8), (31.4, 27.1), (32.2, 36.5), (32.9, 28.7), (33.7, 37.8),
    (34.4, 30.1), (35.1, 39.4), (35.9, 31.6), (36.6, 40.9), (37.3, 33.0), (38.1, 42.5), (38.8, 34.4),
    (39.6, 43.8), (40.3, 36.1), (41.0, 45.2), (41.8, 37.3), (42.5, 46.9), (43.2, 38.8), (44.0, 48.1),
    (44.8, 40.4), (45.5, 49.7), (46.2, 41.9), (47.0, 51.0), (47.7, 43.1), (48.5, 52.4), (49.2, 44.7),
    (3.9, 6.0), (5.5, 7.6), (7.9, 6.0), (9.2, 12.0), (10.5, 8.5), (12.2, 14.0), (13.4, 11.1),
    (14.9, 16.9), (16.3, 13.8), (17.7, 19.6), (19.1, 16.7), (20.4, 22.8), (21.9, 18.9), (23.0, 26.0),
    (24.6, 21.2), (26.0, 29.3), (27.4, 23.9), (28.9, 31.8), (30.4, 26.8), (31.9, 35.2), (33.3, 29.6),
    (34.8, 38.0), (36.3, 32.1), (37.7, 40.7), (39.3, 35.3), (40.7, 43.2), (42.2, 38.0), (43.6, 46.4),
    (45.1, 41.0), (46.6, 48.8), (22.3, 27.2), (24.0, 29.1), (25.3, 30.7), (27.0, 32.5), (28.2, 34.0),
    (26.8, 21.5), (28.0, 22.9), (29.7, 24.3), (31.2, 25.6), (32.7, 27.4), (21.1, 24.6), (20.0, 16.3),
    (18.6, 21.3), (17.2, 13.4), (15.6, 18.3), (14.2, 12.3),
]

mod_out = [
    (27.5, 61.5), (41.5, 54.2), (14.1, 47.6), (7.0, 44.5), (17.5, 42.0), (7.0, 35.5), (12.0, 36.5),
    (1.1, 33.5), (1.1, 26.3), (2.7, 26.1), (1.1, 23.2), (1.1, 20.8), (1.1, 20.6), (2.0, 11.4),
    (4.1, 14.9), (1.1, 6.9), (1.1, 6.1), (6.5, 2.2), (10.7, 27.2), (16.0, 33.5), (14.0, 29.7),
    (15.1, 29.6), (17.5, 30.5), (10.3, 19.8), (13.3, 24.3), (15.1, 24.3), (16.7, 25.4), (23.8, 34.9),
    (21.3, 31.0), (28.6, 7.5), (28.5, 14.9), (30.0, 16.4), (23.0, 13.0), (24.0, 14.5), (20.1, 13.7),
    (17.1, 10.2), (14.7, 10.2), (13.7, 8.8), (12.5, 8.4), (10.8, 8.0), (33.2, 19.4), (33.4, 22.9),
    (35.5, 24.1), (39.0, 21.0), (37.4, 26.5), (38.1, 27.2), (39.1, 27.4), (34.1, 28.2), (43.2, 32.3),
    (30.0, 45.1), (30.0, 43.7), (28.4, 42.7), (25.9, 39.8), (26.6, 39.8), (36.0, 49.3), (39.0, 45.6),
    (40.6, 48.8), (41.5, 49.2), (43.1, 50.1), (44.4, 49.6), (45.3, 50.6), (90.0, 84.0), (75.8, 79.3),
    (75.2, 77.5), (73.7, 74.4), (56.3, 73.0), (63.8, 63.4), (62.5, 60.1), (52.8, 56.5), (49.8, 57.1),
    (50.1, 56.1), (49.3, 54.0), (55.7, 54.5), (55.0, 52.1), (54.7, 49.9), (59.1, 52.3), (58.7, 47.6),
    (64.7, 50.7), (68.8, 50.1), (90.0, 46.8), (83.3, 39.4), (86.5, 38.2), (60.0, 36.5), (63.9, 30.4),
    (50.6, 33.7), (46.3, 31.3), (47.5, 24.9), (50.3, 24.9), (50.0, 16.8), (54.8, 16.0), (50.5, 12.9),
    (45.4, 37.8), (53.5, 45.6), (53.5, 44.6), (48.8, 41.2), (46.8, 42.0), (48.9, 45.4), (51.0, 46.4),
    (51.9, 47.0), (52.8, 49.8), (51.1, 52.3), (52.1, 51.5), (47.3, 49.9), (48.4, 50.3), (45.4, 50.3),
    (49.9, 49.9), (50.4, 51.5), (25.8, 40.2), (26.4, 39.4), (25.7, 38.0), (25.6, 35.8), (28.1, 40.9),
    (23.9, 34.7), (27.7, 36.2), (28.6, 36.7), (25.2, 33.1), (25.9, 34.2), (21.9, 29.5), (22.8, 30.2),
    (23.5, 29.5), (4.2, 15.0), (6.0, 15.5), (7.0, 17.5), (7.4, 16.4), (8.6, 16.4), (8.8, 16.0),
    (7.4, 14.2), (8.4, 13.5), (9.3, 14.6), (10.4, 19.7), (11.4, 18.2), (12.1, 19.1), (12.6, 17.9),
    (13.2, 24.2), (13.2, 21.3), (14.1, 23.7), (15.1, 22.6), (16.6, 25.3), (17.7, 25.5), (18.6, 25.8),
    (20.0, 25.5), (28.4, 14.8), (22.9, 12.8), (24.7, 15.3), (17.0, 10.1), (14.4, 10.1), (13.5, 9.0),
    (1.0, 7.0), (25.4, 16.4), (27.2, 17.1), (27.0, 18.2), (28.4, 20.0), (27.5, 21.5), (23.3, 17.1),
    (21.2, 17.5), (20.5, 18.2), (18.6, 15.0), (19.6, 16.0), (16.3, 13.5), (49.7, 57.2), (52.9, 56.5),
    (50.0, 52.3), (52.7, 53.6), (32.5, 42.9), (32.0, 41.6), (30.5, 40.2), (30.0, 38.4), (38.9, 45.8),
    (38.5, 43.8), (35.6, 43.6), (40.4, 48.7), (47.2, 49.8), (51.8, 47.1), (50.9, 46.2), (47.5, 44.2),
    (53.4, 45.8), (53.4, 44.5), (48.8, 41.1), (44.2, 41.1), (43.3, 40.3), (42.0, 38.9), (42.0, 37.5),
    (45.3, 37.8), (50.5, 33.6), (43.3, 32.4), (46.2, 31.3), (39.4, 31.5), (37.6, 32.4), (39.0, 33.1),
    (37.4, 30.2), (36.2, 30.9), (37.3, 26.4), (38.0, 27.3), (35.4, 24.0), (33.3, 22.9), (31.6, 26.6),
    (31.6, 24.6), (25.0, 32.4), (25.8, 32.0), (27.5, 32.7), (28.3, 36.9), (29.5, 38.5), (31.6, 38.5),
    (33.0, 40.2), (33.9, 37.4),
]

panels = [
    (osim_band + osim_band_wide + osim_left + osim_mid + osim_core + osim_right,
     "Average number of days of drug use in OSIM II", (-1.08, 103.2), -0.108),
    (mod_band + mod_band_inner + mod_band_mid + mod_band_wide + mod_spread + mod_out,
     "Average number of days of drug use in ModOSIM", (-1.36, 103.2), -0.097),
]
ylabel_text = "Average number of days of drug use in    PRDR"

sns.set_style("ticks")
plt.rcParams['font.family'] = ['Liberation Sans', 'DejaVu Sans']

fig = plt.figure(figsize=(16.47, 22.29), dpi=100)
axes = [fig.add_axes([0.1044, 0.5637, 0.8919, 0.4312]),
        fig.add_axes([0.1044, 0.0624, 0.8919, 0.4312])]

text_color = '#262626'
for ax, (pts, xlab, ylim, xlab_y) in zip(axes, panels):
    df = pd.DataFrame(pts, columns=['x', 'y'])
    sns.scatterplot(data=df, x='x', y='y', ax=ax, marker='o', s=140,
                    facecolors='none', edgecolor='#1a1a1a', linewidth=1.3,
                    alpha=0.75, legend=False, zorder=2)
    # identity line
    ax.axline((1, 1), (101, 101), color='black', lw=1.8, zorder=3)

    ax.set_xlim(-0.22, 102.4)
    ax.set_ylim(*ylim)
    ax.set_xticks(tick_vals)
    ax.set_yticks(tick_vals)
    ax.tick_params(axis='both', direction='out', length=13, width=2.4,
                   color='#1a1a1a', labelsize=21, labelcolor=text_color)
    ax.tick_params(axis='x', pad=10)
    ax.tick_params(axis='y', pad=10)
    for sp in ax.spines.values():
        sp.set_visible(True)
        sp.set_linewidth(2.2)
        sp.set_color('#1a1a1a')

    ax.set_xlabel(xlab, fontsize=27, color=text_color)
    ax.set_ylabel(ylabel_text, fontsize=27, color=text_color)
    ax.xaxis.set_label_coords(0.49, xlab_y)
    ax.yaxis.set_label_coords(-0.0845, 0.484)

fig.savefig('out.png', dpi=100)
